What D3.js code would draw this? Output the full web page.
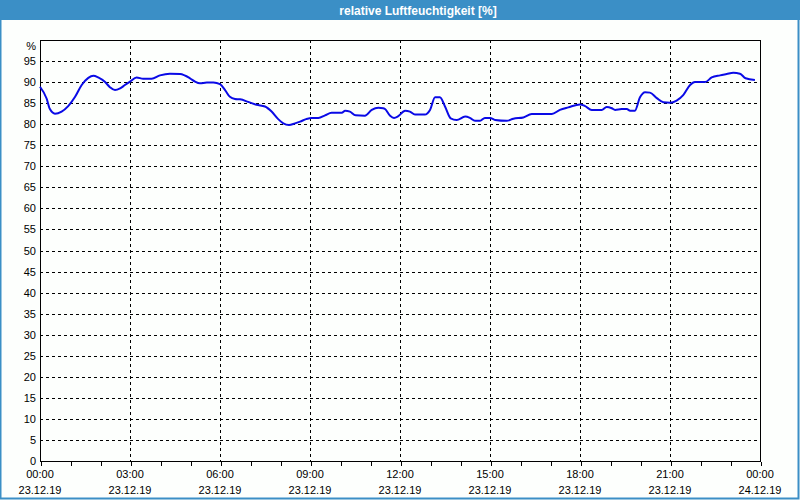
<!DOCTYPE html>
<html>
<head>
<meta charset="utf-8">
<script src="https://cdn.jsdelivr.net/npm/d3@7"></script>
<style>
  html, body { margin: 0; padding: 0; background: #fdfffd; }
  svg { display: block; }
  text { font-family: "Liberation Sans", Arial, sans-serif; }
</style>
</head>
<body>
<svg id="chart" width="800" height="500"></svg>
<script>
const title = "relative Luftfeuchtigkeit [%]";
const yUnit = "%";
const baseDate = "2019-12-23T00:00:00";
const endDate = "2019-12-24T00:00:00";
const hours = [0.0,0.22,0.33,0.5,0.72,0.94,1.17,1.39,1.61,1.78,1.94,2.17,2.33,2.5,2.67,2.83,3.0,3.22,3.44,3.72,4.0,4.33,4.67,5.0,5.17,5.33,5.56,5.78,6.0,6.17,6.33,6.5,6.67,6.94,7.22,7.5,7.72,7.94,8.11,8.3,8.5,8.67,8.87,9.06,9.28,9.5,9.72,10.06,10.17,10.33,10.52,10.83,11.06,11.28,11.44,11.5,11.67,11.8,11.94,12.17,12.33,12.5,12.83,13.0,13.17,13.33,13.5,13.69,13.89,14.17,14.33,14.5,14.67,14.83,15.0,15.17,15.56,15.78,16.11,16.39,17.06,17.33,17.61,18.0,18.17,18.39,18.72,18.89,19.06,19.17,19.39,19.56,19.67,19.83,20.0,20.17,20.33,20.56,20.78,21.0,21.22,21.44,21.67,21.83,22.17,22.39,22.67,22.89,23.11,23.33,23.52,23.83];
const humidity = [88.9,86.1,83.6,82.5,83.0,84.3,86.5,89.3,91.0,91.5,91.1,90.0,88.8,88.1,88.5,89.3,90.1,91.1,90.8,90.8,91.6,92.0,91.9,90.9,90.1,89.7,89.9,89.9,89.5,88.1,86.5,86.0,85.9,85.3,84.6,84.2,83.0,81.2,80.2,79.8,80.2,80.6,81.2,81.5,81.5,82.1,82.7,82.7,83.2,83.0,82.1,82.0,83.4,83.9,83.8,83.6,82.0,81.5,81.9,83.2,83.0,82.3,82.3,83.4,86.4,86.4,84.2,81.4,81.0,81.8,81.5,80.8,80.8,81.5,81.5,81.0,80.8,81.3,81.6,82.4,82.4,83.4,84.0,84.7,84.3,83.4,83.4,84.1,83.8,83.4,83.6,83.6,83.2,83.2,86.4,87.6,87.5,86.2,85.2,85.1,85.6,86.9,89.3,90.0,90.0,91.1,91.6,91.9,92.2,92.0,90.9,90.5];
const yTicks = [0,5,10,15,20,25,30,35,40,45,50,55,60,65,70,75,80,85,90,95];

const svg = d3.select("#chart");
const W = 800, H = 500;
const m = {left: 40, right: 40, top: 40, bottom: 39};

const t0 = new Date(baseDate), t1 = new Date(endDate);
const data = hours.map((h, i) => ({t: new Date(t0.getTime() + h * 3600000), v: humidity[i]}));

const x = d3.scaleTime().domain([t0, t1]).range([m.left, W - m.right]);
const y = d3.scaleLinear().domain([0, 100]).range([H - m.bottom, m.top]);

// frame & title bar
svg.append("rect").attr("x", 0).attr("y", 0).attr("width", W).attr("height", H).attr("fill", "#fdfffd");
svg.append("rect").attr("x", 0.5).attr("y", 0.5).attr("width", W - 2).attr("height", H - 2)
  .attr("fill", "none").attr("stroke", "#3b8fc6").attr("stroke-width", 2);
svg.append("rect").attr("x", 0).attr("y", 0).attr("width", W).attr("height", 20).attr("fill", "#3b8fc6");
svg.append("text").attr("x", 418).attr("y", 15).attr("text-anchor", "middle")
  .attr("fill", "#ffffff").attr("font-weight", "bold").attr("font-size", "12px").text(title);

// grid
const gridH = svg.append("g");
gridH.selectAll("line").data(yTicks.filter(d => d > 0)).join("line")
  .attr("x1", m.left).attr("x2", W - m.right)
  .attr("y1", d => Math.round(y(d)) + 0.5).attr("y2", d => Math.round(y(d)) + 0.5)
  .attr("stroke", "#000").attr("stroke-dasharray", "3,3").attr("shape-rendering", "crispEdges");

const majorTimes = d3.timeHour.every(3).range(t0, new Date(t1.getTime() + 1));
const gridV = svg.append("g");
gridV.selectAll("line").data(majorTimes.slice(1, -1)).join("line")
  .attr("x1", d => Math.round(x(d)) + 0.5).attr("x2", d => Math.round(x(d)) + 0.5)
  .attr("y1", m.top).attr("y2", H - m.bottom)
  .attr("stroke", "#000").attr("stroke-dasharray", "3,3").attr("shape-rendering", "crispEdges");

// box
svg.append("rect").attr("x", m.left + 0.5).attr("y", m.top + 0.5)
  .attr("width", W - m.left - m.right).attr("height", H - m.top - m.bottom)
  .attr("fill", "none").attr("stroke", "#000").attr("shape-rendering", "crispEdges");

// x axis
const xAxis = d3.axisBottom(x).ticks(d3.timeHour.every(1)).tickSize(4).tickFormat("");
const gx = svg.append("g").attr("transform", `translate(0.5,${H - m.bottom + 0.5})`).call(xAxis);
gx.select(".domain").remove();
gx.selectAll("line").attr("stroke", "#000").attr("shape-rendering", "crispEdges");

const fmtT = d3.timeFormat("%H:%M"), fmtD = d3.timeFormat("%d.%m.%y");
const xl = svg.append("g").attr("font-size", "11px").attr("fill", "#000");
xl.selectAll("text.t").data(majorTimes).join("text").attr("class", "t")
  .attr("x", d => x(d)).attr("y", 478).attr("text-anchor", "middle").text(fmtT);
xl.selectAll("text.d").data(majorTimes).join("text").attr("class", "d")
  .attr("x", d => x(d)).attr("y", 494).attr("text-anchor", "middle").text(fmtD);

// y labels
const yl = svg.append("g").attr("font-size", "11px").attr("fill", "#000");
yl.selectAll("text").data(yTicks).join("text")
  .attr("x", 36).attr("y", d => y(d) + 4).attr("text-anchor", "end").text(d => d);
svg.append("text").attr("x", 36).attr("y", 50).attr("text-anchor", "end")
  .attr("font-size", "11px").text(yUnit);

// line
const line = d3.line().x(d => x(d.t)).y(d => y(d.v)).curve(d3.curveMonotoneX);
svg.append("path").datum(data).attr("d", line)
  .attr("fill", "none").attr("stroke", "#0a0ae6").attr("stroke-width", 2)
  .attr("stroke-linejoin", "round");
</script>
</body>
</html>
